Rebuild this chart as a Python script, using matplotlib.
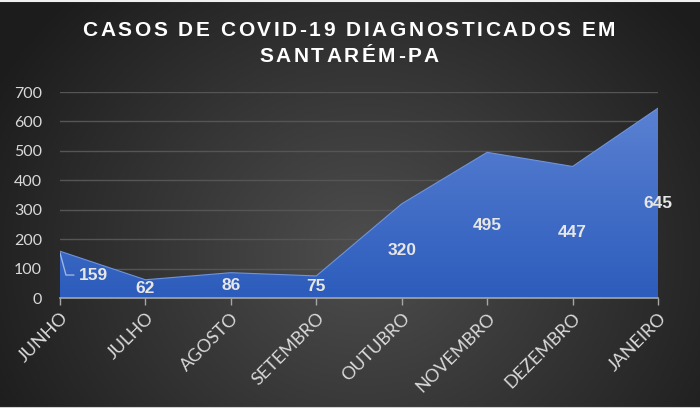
import numpy as np
import matplotlib
matplotlib.use("Agg")
import matplotlib.pyplot as plt
from matplotlib.patches import Polygon
from matplotlib.font_manager import FontProperties
from matplotlib.textpath import TextToPath

months = ["JUNHO", "JULHO", "AGOSTO", "SETEMBRO", "OUTUBRO", "NOVEMBRO", "DEZEMBRO", "JANEIRO"]
cases = [159, 62, 86, 75, 320, 495, 447, 645]
yticks = [0, 100, 200, 300, 400, 500, 600, 700]
title_lines = ["CASOS DE COVID-19 DIAGNOSTICADOS EM", "SANTARÉM-PA"]

W, H = 700, 408
fig = plt.figure(figsize=(W / 100, H / 100), dpi=100)

# background radial gradient
bg = fig.add_axes([0, 0, 1, 1])
yy, xx = np.mgrid[0:H, 0:W]
cx, cy = W * 0.52, H * 0.62
r = np.sqrt(((xx - cx) / (W * 0.6)) ** 2 + ((yy - cy) / (H * 0.9)) ** 2)
v = np.clip(1 - r, 0, 1)
lo, hi = np.array([0x1c, 0x1c, 0x1c]) / 255, np.array([0x4e, 0x4e, 0x4e]) / 255
img = lo[None, None, :] + (hi - lo)[None, None, :] * v[..., None]
bg.imshow(img, extent=[0, W, H, 0], aspect="auto")
bg.set_xlim(0, W); bg.set_ylim(H, 0)
bg.axis("off")
bg.plot([0, W], [0.5, 0.5], color="#f0f0f0", lw=1.5)
bg.plot([0, W], [H - 0.5, H - 0.5], color="#d0d0d0", lw=1.5)

L, R, B, T = 60, 658, 298, 92
ax = fig.add_axes([L / W, 1 - B / H, (R - L) / W, (B - T) / H])
ax.patch.set_alpha(0)
x = np.arange(len(months))
ax.set_xlim(0, len(months) - 1)
ax.set_ylim(0, 700)

for t in yticks[1:]:
    ax.axhline(t, color="#555555", lw=1, zorder=0)

# gradient area
verts = [(0, 0)] + list(zip(x, cases)) + [(x[-1], 0)]
poly = Polygon(verts, closed=True, facecolor="none", edgecolor="none")
ax.add_patch(poly)
grad = np.linspace(0, 1, 256)[:, None]
top = np.array([0x5e, 0x84, 0xd4]) / 255
bot = np.array([0x2c, 0x5c, 0xbc]) / 255
gimg = bot[None, None, :] + (top - bot)[None, None, :] * grad[..., None]
gimg = np.repeat(gimg, 2, axis=1)
im = ax.imshow(gimg, extent=[0, x[-1], 0, 700], origin="lower", aspect="auto", zorder=1)
im.set_clip_path(poly)
ax.plot(x, cases, color="#6f93dc", lw=0.8, zorder=2)

# data labels
lab_kw = dict(ha="center", va="center", color="#e6e6e6", fontsize=12.5,
              fontweight="bold", family="Liberation Sans", zorder=3)
for i, c in enumerate(cases):
    if i == 0:
        ax.text(0.39, 78, str(c), **lab_kw)
        ax.plot([0.0, 0.07, 0.16], [153, 78, 78], color="#9fb4e0", lw=1, zorder=3)
    else:
        ax.text(i, c / 2, str(c), **lab_kw)

for s in ["top", "right", "left"]:
    ax.spines[s].set_visible(False)
ax.spines["bottom"].set_color("#a6a6a6")
ax.spines["bottom"].set_linewidth(1.2)
ax.set_xticks(x)
ax.set_xticklabels(months, rotation=45, ha="right", va="top", rotation_mode="anchor",
                   color="#d9d9d9", fontsize=13, family="Lato")
ax.tick_params(axis="x", colors="#a6a6a6", length=5, width=1, labelcolor="#d9d9d9", pad=3.5)
ax.set_yticks(yticks)
ax.set_yticklabels([str(t) for t in yticks], color="#d9d9d9", fontsize=11.5, family="Lato")
ax.tick_params(axis="y", length=0, pad=13)

# title with letter spacing
fp = FontProperties(family="Liberation Sans", weight="bold", size=15)
ttp = TextToPath()
track = 2.6  # px
for line, yc in zip(title_lines, [30, 57]):
    widths = [ttp.get_text_width_height_descent(ch, fp, ismath=False)[0] * 100 / 72 for ch in line]
    total = sum(widths) + track * (len(line) - 1)
    xpos = 349 - total / 2
    for ch, w in zip(line, widths):
        fig.text(xpos / W, 1 - yc / H, ch, ha="left", va="center", color="white",
                 fontproperties=fp)
        xpos += w + track

fig.savefig("out.png", dpi=100)
